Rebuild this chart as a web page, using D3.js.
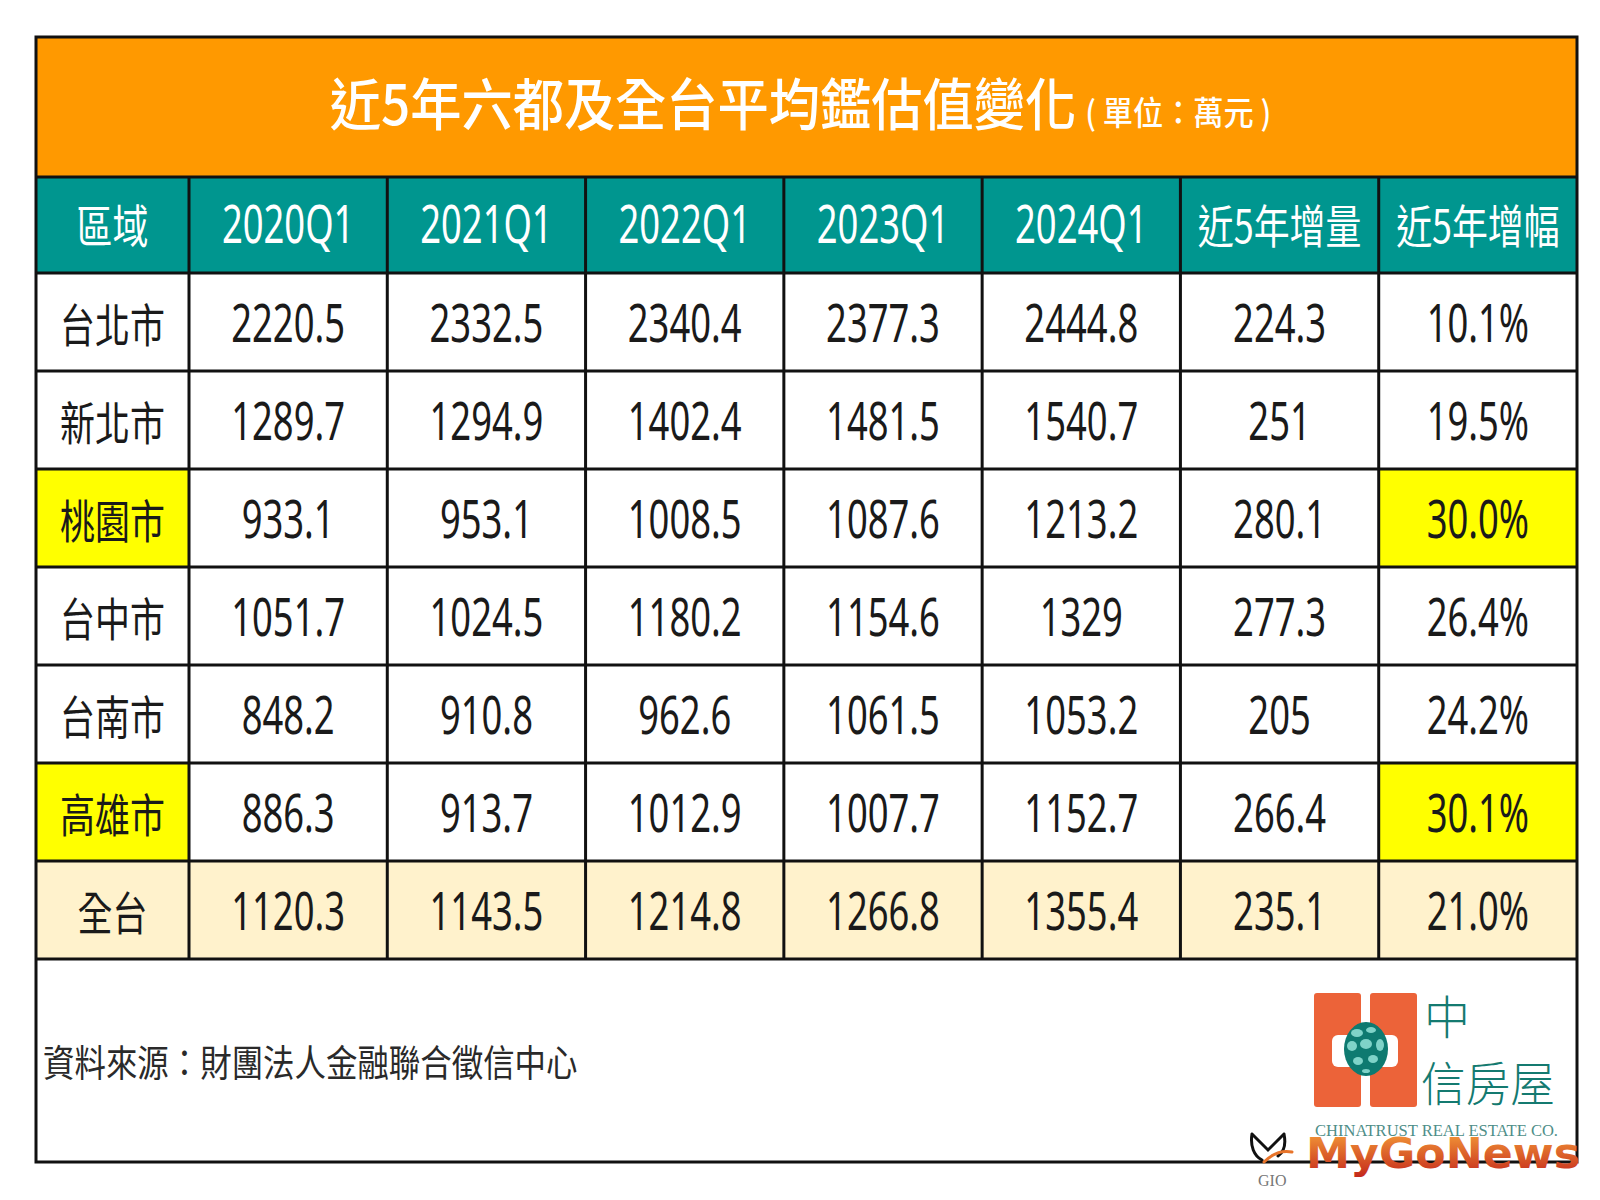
<!DOCTYPE html>
<html><head><meta charset="utf-8">
<script src="https://cdn.jsdelivr.net/npm/d3@7"></script>
<style>body{margin:0;background:#fff}svg{display:block}</style>
</head><body>
<script>
// ---- data ----
const regions = ["台北市","新北市","桃園市","台中市","台南市","高雄市","全台"];
const quarters = ["2020Q1","2021Q1","2022Q1","2023Q1","2024Q1"];
const headers = ["區域","2020Q1","2021Q1","2022Q1","2023Q1","2024Q1","近5年增量","近5年增幅"];
const v2020 = [2220.5,1289.7,933.1,1051.7,848.2,886.3,1120.3];
const v2021 = [2332.5,1294.9,953.1,1024.5,910.8,913.7,1143.5];
const v2022 = [2340.4,1402.4,1008.5,1180.2,962.6,1012.9,1214.8];
const v2023 = [2377.3,1481.5,1087.6,1154.6,1061.5,1007.7,1266.8];
const v2024 = [2444.8,1540.7,1213.2,1329,1053.2,1152.7,1355.4];
const increase5y = [224.3,251,280.1,277.3,205,266.4,235.1];
const growth5y = [10.1,19.5,30.0,26.4,24.2,30.1,21.0];
const highlighted = ["桃園市","高雄市"];
const totalRow = "全台";
const title = "近5年六都及全台平均鑑估值變化";
const unitLabel = "( 單位：萬元 )";
const source = "資料來源：財團法人金融聯合徵信中心";

// ---- layout ----
const W = 1600, H = 1200;
const L = 36, R = 1577, T = 37, titleB = 177, headB = 273, bodyB = 959, footB = 1162;
const firstColR = 189;
const svg = d3.select("body").append("svg").attr("width", W).attr("height", H);
const CJK = "'Noto Sans CJK TC','Noto Sans CJK SC',sans-serif";
const LAT = "'Noto Sans','Noto Sans CJK TC',sans-serif";

const colKeys = headers.slice(1);
const x = d3.scaleBand().domain(colKeys).range([firstColR, R]);
const y = d3.scaleBand().domain(regions).range([headB, bodyB]);
const colLeft = k => k === headers[0] ? L : x(k);
const colW = k => k === headers[0] ? firstColR - L : x.bandwidth();

const series = [v2020, v2021, v2022, v2023, v2024];
const cells = [];
regions.forEach((r, i) => {
  cells.push({row: r, col: headers[0], text: r, cjk: true,
    fill: highlighted.includes(r) ? "#FFFF00" : (r === totalRow ? "#FFF2CC" : "#fff")});
  quarters.forEach((q, j) => cells.push({row: r, col: q, text: String(series[j][i]),
    fill: r === totalRow ? "#FFF2CC" : "#fff"}));
  cells.push({row: r, col: headers[6], text: String(increase5y[i]), fill: r === totalRow ? "#FFF2CC" : "#fff"});
  cells.push({row: r, col: headers[7], text: growth5y[i].toFixed(1) + "%",
    fill: highlighted.includes(r) ? "#FFFF00" : (r === totalRow ? "#FFF2CC" : "#fff")});
});

// background frame
svg.append("rect").attr("x", L).attr("y", T).attr("width", R - L).attr("height", footB - T).attr("fill", "#fff");
// title band
svg.append("rect").attr("x", L).attr("y", T).attr("width", R - L).attr("height", titleB - T).attr("fill", "#FF9900");
const tt = svg.append("text").attr("transform", `translate(${(L + R) / 2 - 6},${125}) scale(0.915,1)`)
  .attr("text-anchor", "middle").attr("fill", "#fff").attr("font-family", CJK).attr("font-weight", 500);
tt.append("tspan").attr("font-size", 56).text(title);
tt.append("tspan").attr("font-size", 33).attr("dx", 10).text(unitLabel);

// header band
svg.append("rect").attr("x", L).attr("y", titleB).attr("width", R - L).attr("height", headB - titleB).attr("fill", "#00968F");
svg.selectAll("text.h").data(headers).join("text").attr("class", "h")
  .attr("transform", d => `translate(${colLeft(d) + colW(d) / 2},${(titleB + headB) / 2 - 2}) scale(${/^\d/.test(d) ? 0.7 : 0.78},1)`)
  .attr("text-anchor", "middle").attr("dominant-baseline", "central")
  .attr("fill", "#fff").attr("font-size", d => /^\d/.test(d) ? 52 : 46)
  .attr("font-family", d => /^\d/.test(d) ? LAT : CJK).text(d => d);

// body cells
svg.selectAll("rect.c").data(cells).join("rect").attr("class", "c")
  .attr("x", d => colLeft(d.col)).attr("y", d => y(d.row))
  .attr("width", d => colW(d.col)).attr("height", y.bandwidth()).attr("fill", d => d.fill);
svg.selectAll("text.c").data(cells).join("text").attr("class", "c")
  .attr("transform", d => `translate(${colLeft(d.col) + colW(d.col) / 2},${y(d.row) + y.bandwidth() / 2}) scale(${d.cjk ? 0.76 : 0.7},1)`)
  .attr("text-anchor", "middle").attr("dominant-baseline", "central")
  .attr("fill", "#1a1a1a").attr("font-size", d => d.cjk ? 46 : 52)
  .attr("font-family", d => d.cjk ? CJK : LAT).text(d => d.text);

// grid lines
const g = svg.append("g").attr("stroke", "#111").attr("stroke-width", 3);
const vx = [firstColR, ...colKeys.slice(1).map(k => x(k))];
vx.forEach(v => g.append("line").attr("x1", v).attr("x2", v).attr("y1", titleB).attr("y2", bodyB));
[titleB, headB, ...regions.slice(1).map(r => y(r)), bodyB].forEach(v =>
  g.append("line").attr("x1", L).attr("x2", R).attr("y1", v).attr("y2", v));
svg.append("rect").attr("x", L).attr("y", T).attr("width", R - L).attr("height", footB - T)
  .attr("fill", "none").attr("stroke", "#111").attr("stroke-width", 3);

// source
svg.append("text").attr("transform", `translate(43,1061) scale(0.85,1)`)
  .attr("dominant-baseline", "central").attr("font-family", CJK).attr("font-size", 37)
  .attr("fill", "#2a2a2a").text(source);

// Chinatrust logo
const lg = svg.append("g");
lg.append("rect").attr("x", 1314).attr("y", 993).attr("width", 47).attr("height", 114).attr("rx", 3).attr("fill", "#EC6339");
lg.append("rect").attr("x", 1370).attr("y", 993).attr("width", 47).attr("height", 114).attr("rx", 3).attr("fill", "#EC6339");
lg.append("rect").attr("x", 1332).attr("y", 1035).attr("width", 66).attr("height", 32).attr("rx", 6).attr("fill", "#fff");
lg.append("ellipse").attr("cx", 1366).attr("cy", 1049).attr("rx", 22).attr("ry", 27).attr("fill", "#0E7A70");
[[1357,1033,6,4],[1371,1030,5,3],[1352,1046,5,5],[1366,1044,6,5],[1380,1045,4,6],[1358,1061,5,4],[1373,1059,5,4],[1366,1071,4,2]]
  .forEach(([cx,cy,rx,ry]) => lg.append("ellipse").attr("cx", cx).attr("cy", cy).attr("rx", rx).attr("ry", ry).attr("fill", "#7FD3C8"));
lg.append("text").attr("x", 1424).attr("y", 1034).attr("font-family", CJK).attr("font-weight", 300)
  .attr("font-size", 46).attr("fill", "#147A70").text("中");
lg.append("text").attr("x", 1421).attr("y", 1101).attr("font-family", CJK).attr("font-weight", 300)
  .attr("font-size", 47).attr("fill", "#147A70").attr("textLength", 134).attr("lengthAdjust", "spacingAndGlyphs").text("信房屋");
lg.append("text").attr("x", 1315).attr("y", 1136).attr("font-family", "'Liberation Serif',serif")
  .attr("font-size", 17).attr("fill", "#4E8E88").attr("textLength", 243).attr("lengthAdjust", "spacingAndGlyphs")
  .text("CHINATRUST REAL ESTATE CO.");

// MyGoNews watermark
const defs = svg.append("defs");
const grad = defs.append("linearGradient").attr("id", "mg").attr("x1", 0).attr("y1", 0).attr("x2", 0).attr("y2", 1);
grad.append("stop").attr("offset", "0%").attr("stop-color", "#F7A23A");
grad.append("stop").attr("offset", "100%").attr("stop-color", "#C3261B");
svg.append("text").attr("x", 1306).attr("y", 1168).attr("font-family", "'DejaVu Sans',sans-serif").attr("font-weight", 700)
  .attr("font-size", 43).attr("fill", "url(#mg)").attr("textLength", 274).attr("lengthAdjust", "spacingAndGlyphs").text("MyGoNews");
const mi = svg.append("g").attr("fill", "none").attr("stroke-linecap", "round");
mi.append("path").attr("d", "M1252,1134 L1268,1150 L1284,1134 M1252,1134 C1250,1146 1254,1156 1262,1160 M1284,1134 C1286,1144 1284,1152 1278,1156")
  .attr("stroke", "#111").attr("stroke-width", 3);
mi.append("path").attr("d", "M1264,1162 C1272,1154 1282,1150 1292,1152").attr("stroke", "#E8742A").attr("stroke-width", 3);
svg.append("text").attr("x", 1258).attr("y", 1186).attr("font-family", "'Liberation Serif',serif").attr("font-size", 16)
  .attr("fill", "#777").text("GIO");
</script>
</body></html>
